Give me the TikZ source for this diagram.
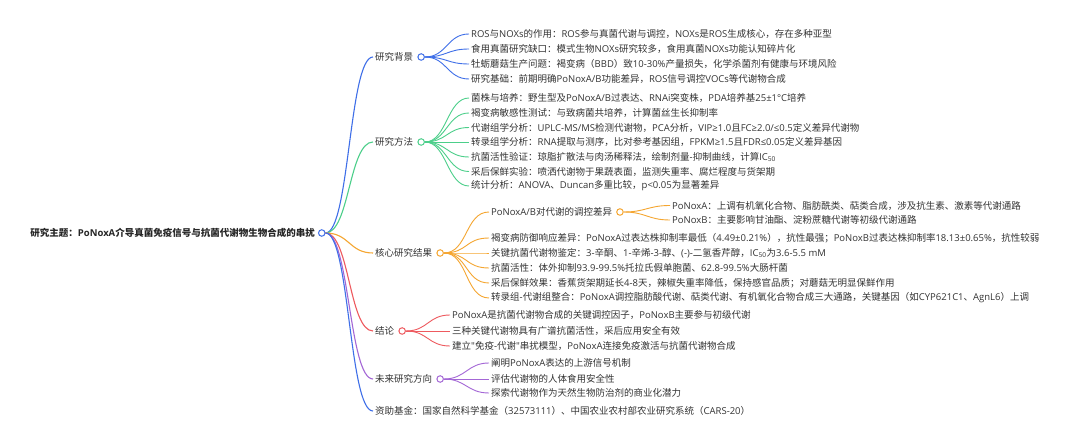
\documentclass[tikz,border=0pt]{standalone}
\usepackage{fontspec}
\setmainfont{Noto Sans CJK SC}
\newfontfamily\cjkfont{Noto Sans CJK SC}
\newfontfamily\latfont{Open Sans}
\makeatletter
\def\setcjkclass#1#2{\count@=#1 \loop\XeTeXcharclass\count@=1 \advance\count@ 1 \ifnum\count@<#2 \repeat}
\setcjkclass{"3000}{"3040}
\setcjkclass{"4E00}{"A000}
\setcjkclass{"FF00}{"FFF0}
\makeatother
\XeTeXinterchartokenstate=1
\XeTeXinterchartoks 0 1 = {\cjkfont}
\XeTeXinterchartoks 4095 1 = {\cjkfont}
\XeTeXinterchartoks 1 0 = {\latfont}
\XeTeXinterchartoks 4095 0 = {\latfont}
\usepackage{xcolor}
\usetikzlibrary{positioning}
\definecolor{txt}{HTML}{333333}
\definecolor{cblue}{HTML}{3F6FE8}
\definecolor{cgreen}{HTML}{4CCF8A}
\definecolor{corange}{HTML}{F5A631}
\definecolor{cred}{HTML}{EE5A5F}
\definecolor{cpurple}{HTML}{A467D6}

\begin{document}
\begin{tikzpicture}[x=1pt, y=-1pt, node distance=2pt,
  every node/.style={font=\fontsize{9.5}{11}\selectfont, text=txt},
  item/.style={anchor=west, inner sep=2pt},
  dot/.style={draw=#1, fill=white, circle, line width=1pt, inner sep=0pt, minimum size=6.5pt},
  link/.style={draw=#1, line width=1.1pt},
  twig/.style={draw=#1, line width=0.9pt}]
  \fill[white] (0,0) rectangle (1080,446);
  \useasboundingbox (0,0) rectangle (1080,446);

  \node[anchor=east, inner sep=2pt, font=\fontsize{9.5}{11}\selectfont\bfseries, text=black!85] (topic) at (317,233) {研究主题：PoNoxA介导真菌免疫信号与抗菌代谢物生物合成的串扰};
  \node[dot=cblue, right=1pt of topic] (topico) {};

  \node[item] (bg) at (373,57) {研究背景};
  \node[dot=cblue, right=of bg] (bgo) {};
  \node[item] (me) at (373,142) {研究方法};
  \node[dot=cgreen, right=of me] (meo) {};
  \node[item] (res) at (373,253) {核心研究结果};
  \node[dot=corange, right=of res] (reso) {};
  \node[item] (con) at (373,331) {结论};
  \node[dot=cred, right=of con] (cono) {};
  \node[item] (fut) at (373,379) {未来研究方向};
  \node[dot=cpurple, right=of fut] (futo) {};
  \node[item] (fund) at (373,411) {资助基金：国家自然科学基金（32573111）、中国农业农村部农业研究系统（CARS-20）};

  \node[item] (bg1) at (469,34) {ROS与NOXs的作用：ROS参与真菌代谢与调控，NOXs是ROS生成核心，存在多种亚型};
  \node[item] (bg2) at (469,49) {食用真菌研究缺口：模式生物NOXs研究较多，食用真菌NOXs功能认知碎片化};
  \node[item] (bg3) at (469,64) {牡蛎蘑菇生产问题：褐变病（BBD）致10-30\%产量损失，化学杀菌剂有健康与环境风险};
  \node[item] (bg4) at (469,79) {研究基础：前期明确PoNoxA/B功能差异，ROS信号调控VOCs等代谢物合成};

  \node[item] (me1) at (469,98) {菌株与培养：野生型及PoNoxA/B过表达、RNAi突变株，PDA培养基25±1°C培养};
  \node[item] (me2) at (469,113) {褐变病敏感性测试：与致病菌共培养，计算菌丝生长抑制率};
  \node[item] (me3) at (469,127.5) {代谢组学分析：UPLC-MS/MS检测代谢物，PCA分析，VIP≥1.0且FC≥2.0/≤0.5定义差异代谢物};
  \node[item] (me4) at (469,142) {转录组学分析：RNA提取与测序，比对参考基因组，FPKM≥1.5且FDR≤0.05定义差异基因};
  \node[item] (me5) at (469,157) {抗菌活性验证：琼脂扩散法与肉汤稀释法，绘制剂量-抑制曲线，计算IC\textsubscript{50}};
  \node[item] (me6) at (469,171.5) {采后保鲜实验：喷洒代谢物于果蔬表面，监测失重率、腐烂程度与货架期};
  \node[item] (me7) at (469,186) {统计分析：ANOVA、Duncan多重比较，p<0.05为显著差异};

  \node[item] (res1) at (489,212) {PoNoxA/B对代谢的调控差异};
  \node[dot=corange, right=of res1] (res1o) {};
  \node[item] (res1a) at (670,205.5) {PoNoxA：上调有机氧化合物、脂肪酰类、萜类合成，涉及抗生素、激素等代谢通路};
  \node[item] (res1b) at (670,220) {PoNoxB：主要影响甘油酯、淀粉蔗糖代谢等初级代谢通路};
  \node[item] (res2) at (489,238) {褐变病防御响应差异：PoNoxA过表达株抑制率最低（4.49±0.21\%），抗性最强；PoNoxB过表达株抑制率18.13±0.65\%，抗性较弱};
  \node[item] (res3) at (489,253) {关键抗菌代谢物鉴定：3-辛酮、1-辛烯-3-醇、(-)-二氢香芹醇，IC\textsubscript{50}为3.6-5.5 mM};
  \node[item] (res4) at (489,268) {抗菌活性：体外抑制93.9-99.5\%托拉氏假单胞菌、62.8-99.5\%大肠杆菌};
  \node[item] (res5) at (489,283) {采后保鲜效果：香蕉货架期延长4-8天，辣椒失重率降低，保持感官品质；对蘑菇无明显保鲜作用};
  \node[item] (res6) at (489,298) {转录组-代谢组整合：PoNoxA调控脂肪酸代谢、萜类代谢、有机氧化合物合成三大通路，关键基因（如CYP621C1、AgnL6）上调};

  \node[item] (con1) at (450,315) {PoNoxA是抗菌代谢物合成的关键调控因子，PoNoxB主要参与初级代谢};
  \node[item] (con2) at (450,331) {三种关键代谢物具有广谱抗菌活性，采后应用安全有效};
  \node[item] (con3) at (450,346) {建立"免疫-代谢"串扰模型，PoNoxA连接免疫激活与抗菌代谢物合成};

  \node[item] (fut1) at (489,363) {阐明PoNoxA表达的上游信号机制};
  \node[item] (fut2) at (489,379) {评估代谢物的人体食用安全性};
  \node[item] (fut3) at (489,393) {探索代谢物作为天然生物防治剂的商业化潜力};

  \draw[link=cblue] (topico.east) .. controls +(24,0) and +(-24,0) .. (bg.west);
  \draw[link=cgreen] (topico.east) .. controls +(24,0) and +(-24,0) .. (me.west);
  \draw[link=corange] (topico.east) .. controls +(24,0) and +(-24,0) .. (res.west);
  \draw[link=cred] (topico.east) .. controls +(24,0) and +(-24,0) .. (con.west);
  \draw[link=cpurple] (topico.east) .. controls +(24,0) and +(-24,0) .. (fut.west);
  \draw[link=cblue] (topico.east) .. controls +(24,0) and +(-24,0) .. (fund.west);

  \draw[twig=cblue] (bgo.east) .. controls +(22,0) and +(-22,0) .. (bg1.west);
  \draw[twig=cblue] (bgo.east) .. controls +(22,0) and +(-22,0) .. (bg2.west);
  \draw[twig=cblue] (bgo.east) .. controls +(22,0) and +(-22,0) .. (bg3.west);
  \draw[twig=cblue] (bgo.east) .. controls +(22,0) and +(-22,0) .. (bg4.west);

  \draw[twig=cgreen] (meo.east) .. controls +(22,0) and +(-22,0) .. (me1.west);
  \draw[twig=cgreen] (meo.east) .. controls +(22,0) and +(-22,0) .. (me2.west);
  \draw[twig=cgreen] (meo.east) .. controls +(22,0) and +(-22,0) .. (me3.west);
  \draw[twig=cgreen] (meo.east) .. controls +(22,0) and +(-22,0) .. (me4.west);
  \draw[twig=cgreen] (meo.east) .. controls +(22,0) and +(-22,0) .. (me5.west);
  \draw[twig=cgreen] (meo.east) .. controls +(22,0) and +(-22,0) .. (me6.west);
  \draw[twig=cgreen] (meo.east) .. controls +(22,0) and +(-22,0) .. (me7.west);

  \draw[twig=corange] (reso.east) .. controls +(24,0) and +(-24,0) .. (res1.west);
  \draw[twig=corange] (reso.east) .. controls +(24,0) and +(-24,0) .. (res2.west);
  \draw[twig=corange] (reso.east) .. controls +(24,0) and +(-24,0) .. (res3.west);
  \draw[twig=corange] (reso.east) .. controls +(24,0) and +(-24,0) .. (res4.west);
  \draw[twig=corange] (reso.east) .. controls +(24,0) and +(-24,0) .. (res5.west);
  \draw[twig=corange] (reso.east) .. controls +(24,0) and +(-24,0) .. (res6.west);
  \draw[twig=corange] (res1o.east) .. controls +(22,0) and +(-22,0) .. (res1a.west);
  \draw[twig=corange] (res1o.east) .. controls +(22,0) and +(-22,0) .. (res1b.west);

  \draw[twig=cred] (cono.east) .. controls +(22,0) and +(-22,0) .. (con1.west);
  \draw[twig=cred] (cono.east) .. controls +(22,0) and +(-22,0) .. (con2.west);
  \draw[twig=cred] (cono.east) .. controls +(22,0) and +(-22,0) .. (con3.west);

  \draw[twig=cpurple] (futo.east) .. controls +(22,0) and +(-22,0) .. (fut1.west);
  \draw[twig=cpurple] (futo.east) .. controls +(22,0) and +(-22,0) .. (fut2.west);
  \draw[twig=cpurple] (futo.east) .. controls +(22,0) and +(-22,0) .. (fut3.west);
\end{tikzpicture}
\end{document}
